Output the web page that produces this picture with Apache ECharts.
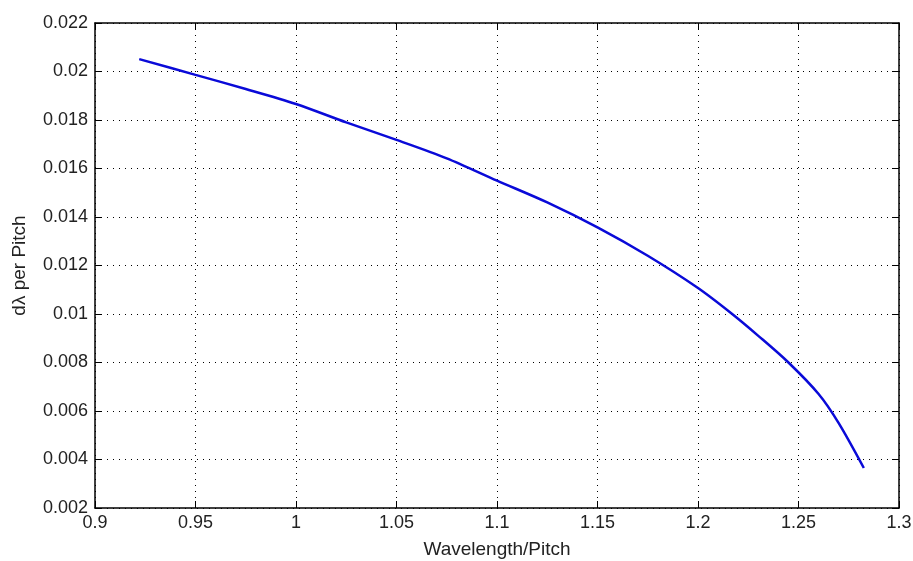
<!DOCTYPE html>
<html>
<head>
<meta charset="utf-8">
<script src="https://cdn.jsdelivr.net/npm/echarts@6/dist/echarts.min.js"></script>
<style>
  html, body { margin: 0; padding: 0; background: #fff; }
  #chart { width: 913px; height: 561px; }
</style>
</head>
<body>
<div id="chart"></div>
<script>
// values
const ratio = [0.922, 0.95, 0.975, 1.0, 1.025, 1.05, 1.075, 1.1, 1.125, 1.15, 1.175, 1.2, 1.217, 1.23, 1.245, 1.26, 1.27, 1.2825];
const dLambda = [0.02051, 0.01986, 0.01928, 0.01866, 0.0179, 0.01718, 0.01642, 0.01550, 0.0146, 0.01357, 0.0124, 0.01107, 0.0100, 0.0091, 0.0080, 0.0067, 0.0055, 0.00365];

const chart = echarts.init(document.getElementById('chart'), null, { renderer: 'canvas' });

const font = 'Liberation Sans, Arial, sans-serif';
const tickStyle = { show: true, inside: true, length: 7, lineStyle: { color: '#000', width: 1 } };
const gridLine = { show: true, lineStyle: { color: '#000', type: [1, 5], width: 1 } };

const option = {
  animation: false,
  backgroundColor: '#fff',
  grid: { left: 95, right: 14, top: 23, bottom: 53, outerBoundsMode: 'none', containLabel: false },
  xAxis: [
    {
      type: 'value',
      min: 0.9, max: 1.3, interval: 0.05,
      name: 'Wavelength/Pitch',
      nameLocation: 'middle',
      nameGap: 32,
      nameTextStyle: { fontFamily: font, fontSize: 19, color: '#222' },
      axisLine: { show: true, onZero: false, lineStyle: { color: '#000', width: 1.5 } },
      axisTick: tickStyle,
      axisLabel: { fontFamily: font, fontSize: 18, color: '#222', margin: 6 },
      splitLine: gridLine
    },
    {
      type: 'value', position: 'top',
      min: 0.9, max: 1.3, interval: 0.05,
      axisLine: { show: true, onZero: false, lineStyle: { color: '#000', width: 1.5 } },
      axisTick: tickStyle,
      axisLabel: { show: false },
      splitLine: { show: false }
    }
  ],
  yAxis: [
    {
      type: 'value',
      min: 0.002, max: 0.022, interval: 0.002,
      name: 'dλ per Pitch',
      nameLocation: 'middle',
      nameGap: 66,
      nameTextStyle: { fontFamily: font, fontSize: 19, color: '#222' },
      axisLine: { show: true, onZero: false, lineStyle: { color: '#000', width: 1.5 } },
      axisTick: tickStyle,
      axisLabel: { fontFamily: font, fontSize: 18, color: '#222', margin: 7 },
      splitLine: gridLine
    },
    {
      type: 'value', position: 'right',
      min: 0.002, max: 0.022, interval: 0.002,
      axisLine: { show: true, onZero: false, lineStyle: { color: '#000', width: 1.5 } },
      axisTick: tickStyle,
      axisLabel: { show: false },
      splitLine: { show: false }
    }
  ],
  series: [
    {
      type: 'line',
      xAxisIndex: 0,
      yAxisIndex: 0,
      data: ratio.map((x, i) => [x, dLambda[i]]),
      smooth: 0.3,
      showSymbol: false,
      lineStyle: { color: '#0a0ad8', width: 2.5 }
    }
  ]
};

chart.setOption(option);
</script>
</body>
</html>
